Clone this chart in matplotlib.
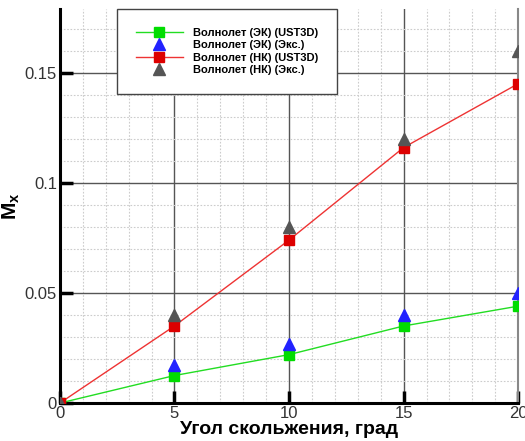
import matplotlib
matplotlib.use('Agg')
import matplotlib.pyplot as plt
from matplotlib.ticker import MultipleLocator, FixedFormatter, FixedLocator

# slip angle, deg
angle = [0, 5, 10, 15, 20]

# Waverider (ЭК): UST3D calculation and experiment
ek_calc = [0, 0.0125, 0.022, 0.035, 0.044]
ek_exp = [0, 0.0175, 0.027, 0.040, 0.050]

# Waverider (НК): UST3D calculation and experiment
nk_calc = [0, 0.035, 0.074, 0.116, 0.145]
nk_exp = [0, 0.040, 0.080, 0.120, 0.160]

labels = ['Волнолет (ЭК) (UST3D)', 'Волнолет (ЭК) (Экс.)',
          'Волнолет (НК) (UST3D)', 'Волнолет (НК) (Экс.)']

plt.rcParams['font.family'] = ['Liberation Sans', 'DejaVu Sans']

fig = plt.figure(figsize=(5.25, 4.41), dpi=100)
ax = fig.add_axes([0.114, 0.086, 0.873, 0.894])

ax.plot(angle, ek_calc, color='#22dd22', lw=1, marker='s', ms=6.5,
        mfc='#00dd00', mec='#00dd00', label=labels[0], zorder=3)
ax.plot(angle, ek_exp, ls='none', marker='^', ms=8.5,
        mfc='#2222ff', mec='#2222ff', label=labels[1], zorder=3)
ax.plot(angle, nk_calc, color='#ee3333', lw=1, marker='s', ms=6.5,
        mfc='#dd0000', mec='#dd0000', label=labels[2], zorder=3)
ax.plot(angle, nk_exp, ls='none', marker='^', ms=8.5,
        mfc='#555555', mec='#555555', label=labels[3], zorder=3)

ax.set_xlim(0, 20)
ax.set_ylim(0, 0.179)

ax.xaxis.set_major_locator(FixedLocator([0, 5, 10, 15, 20]))
ax.xaxis.set_major_formatter(FixedFormatter(['0', '5', '10', '15', '20']))
ax.yaxis.set_major_locator(FixedLocator([0, 0.05, 0.1, 0.15]))
ax.yaxis.set_major_formatter(FixedFormatter(['0', '0.05', '0.1', '0.15']))
ax.xaxis.set_minor_locator(MultipleLocator(1))
ax.yaxis.set_minor_locator(MultipleLocator(0.01))

ax.grid(which='major', color='#555555', lw=1)
ax.grid(which='minor', color='#cccccc', lw=0.8, ls=(0, (1.5, 1.5)))
ax.set_axisbelow(True)

ax.tick_params(which='major', direction='in', length=9, width=2.5,
               color='black', labelsize=12, labelcolor='#333333', pad=2)
ax.tick_params(which='minor', length=0)

for side in ['left', 'bottom']:
    ax.spines[side].set_linewidth(2.2)
    ax.spines[side].set_color('black')
ax.spines['top'].set_visible(False)
ax.spines['right'].set_color('#888888')
ax.spines['right'].set_linewidth(1.5)

ax.set_xlabel('Угол скольжения, град', fontsize=14, fontweight='bold', labelpad=0)
ax.set_ylabel('M$_\\mathregular{x}$', fontsize=15, fontweight='bold', labelpad=2)

leg = ax.legend(loc='upper left', bbox_to_anchor=(0.124, 0.999),
                prop={'weight': 'bold', 'size': 8}, frameon=True, fancybox=False,
                edgecolor='#444444', framealpha=1, borderpad=1.7, handlelength=4.3,
                labelspacing=0.2, handletextpad=0.9, borderaxespad=0)
leg.get_frame().set_linewidth(1)

fig.savefig('out.png', dpi=100)
